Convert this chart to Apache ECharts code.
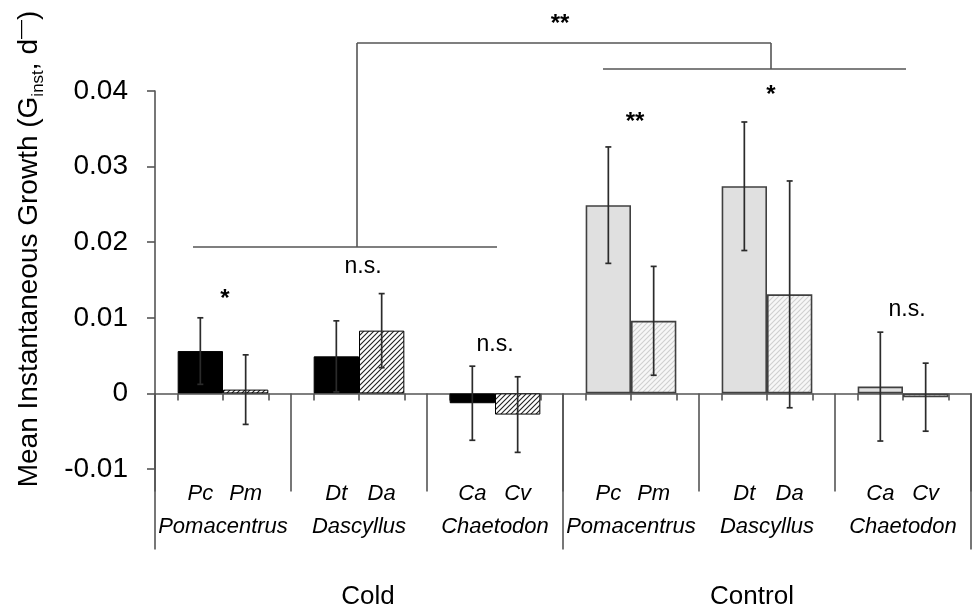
<!DOCTYPE html>
<html>
<head>
<meta charset="utf-8">
<script src="https://cdn.jsdelivr.net/npm/echarts@6/dist/echarts.min.js"></script>
<style>
  html, body { margin: 0; padding: 0; background: #fff; }
  #chart { width: 973px; height: 607px; }
</style>
</head>
<body>
<div id="chart"></div>
<script>
const genera = ['Pomacentrus', 'Dascyllus', 'Chaetodon', 'Pomacentrus', 'Dascyllus', 'Chaetodon'];
const speciesLabels = ['', 'Pc', 'Pm', '', 'Dt', 'Da', '', 'Ca', 'Cv', '', 'Pc', 'Pm', '', 'Dt', 'Da', '', 'Ca', 'Cv', ''];
const treatments = ['Cold', 'Control'];
const firstSpecies = [0.0056, 0.0049, -0.0013, 0.0249, 0.0274, 0.0009];
const firstErr = [0.0044, 0.0047, 0.0049, 0.0077, 0.0085, 0.0072];
const secondSpecies = [0.0005, 0.0083, -0.0028, 0.0096, 0.0131, -0.0005];
const secondErr = [0.0046, 0.0049, 0.0050, 0.0072, 0.0150, 0.0045];
const yMin = -0.01, yMax = 0.04, yStep = 0.01;

const FONT = '"Liberation Sans", Arial, sans-serif';
const AXIS = '#555555';
const H = 607, TOP = 91, BOTTOM = 138;
// lift the category axes from the grid bottom up to y = 0
const zeroLift = -(H - TOP - BOTTOM) * (0 - yMin) / (yMax - yMin);

// diagonal hatch fill
function hatch(bg, fg, lw) {
  const size = 5;
  const c = document.createElement('canvas');
  c.width = c.height = size;
  const ctx = c.getContext('2d');
  ctx.fillStyle = bg;
  ctx.fillRect(0, 0, size, size);
  ctx.strokeStyle = fg;
  ctx.lineWidth = lw;
  ctx.beginPath();
  ctx.moveTo(-1, size + 1); ctx.lineTo(size + 1, -1);
  ctx.moveTo(-1, 1); ctx.lineTo(1, -1);
  ctx.moveTo(size - 1, size + 1); ctx.lineTo(size + 1, size - 1);
  ctx.stroke();
  return { image: c, repeat: 'repeat' };
}
const hatchDark = hatch('#ffffff', '#222222', 1.1);
const hatchLight = hatch('#f7f7f7', '#cfcfcf', 1.1);

const firstData = firstSpecies.map((v, i) => ({
  value: v,
  itemStyle: i < 3
    ? { color: '#000', borderColor: '#000', borderWidth: 1 }
    : { color: '#e0e0e0', borderColor: '#404040', borderWidth: 1.6 }
}));
const secondData = secondSpecies.map((v, i) => ({
  value: v,
  itemStyle: i < 3
    ? { color: hatchDark, borderColor: '#000', borderWidth: 1 }
    : { color: hatchLight, borderColor: '#404040', borderWidth: 1.6 }
}));

const errData = [];
firstSpecies.forEach((v, i) => errData.push([i, v - firstErr[i], v + firstErr[i], 0]));
secondSpecies.forEach((v, i) => errData.push([i, v - secondErr[i], v + secondErr[i], 1]));

function renderErr(params, api) {
  const cat = api.value(0);
  const band = api.size([1, 0])[0];
  const bw = band / 3;
  const cx = api.coord([cat, 0])[0] + (api.value(3) === 0 ? -bw / 2 : bw / 2);
  const yLo = api.coord([cat, api.value(1)])[1];
  const yHi = api.coord([cat, api.value(2)])[1];
  const st = { stroke: '#2b2b2b', lineWidth: 1.7 };
  return {
    type: 'group',
    children: [
      { type: 'line', shape: { x1: cx, y1: yLo, x2: cx, y2: yHi }, style: st },
      { type: 'line', shape: { x1: cx - 3, y1: yLo, x2: cx + 3, y2: yLo }, style: st },
      { type: 'line', shape: { x1: cx - 3, y1: yHi, x2: cx + 3, y2: yHi }, style: st }
    ]
  };
}

function line(x1, y1, x2, y2) {
  return { type: 'line', shape: { x1, y1, x2, y2 }, style: { stroke: AXIS, lineWidth: 1.6 }, z: 10 };
}
function label(text, x, y, size, bold) {
  return {
    type: 'text', x, y, z: 10,
    style: { text, font: (bold ? 'bold ' : '') + size + 'px ' + FONT, fill: '#000', align: 'center', verticalAlign: 'middle' }
  };
}

const chart = echarts.init(document.getElementById('chart'));
chart.setOption({
  animation: false,
  backgroundColor: '#fff',
  grid: { left: 155, right: 2, top: TOP, bottom: BOTTOM, containLabel: false, outerBoundsMode: 'none' },
  xAxis: [
    {
      type: 'category', data: genera, position: 'bottom', offset: zeroLift,
      axisLine: { onZero: false, lineStyle: { color: AXIS, width: 1.6 } },
      axisTick: { show: true, interval: 0, length: 98, lineStyle: { color: AXIS, width: 1.6 } },
      axisLabel: { interval: 0, margin: 122, fontFamily: FONT, fontSize: 22, fontStyle: 'italic', color: '#000' }
    },
    {
      type: 'category', data: treatments, position: 'bottom', offset: zeroLift,
      axisLine: { show: false, onZero: false },
      axisTick: { show: true, interval: 0, length: 156, lineStyle: { color: AXIS, width: 1.6 } },
      axisLabel: {
        interval: 0, margin: 190, color: '#000',
        formatter: v => (v === 'Cold' ? '{c|' + v + '}' : '{k|' + v + '}'),
        rich: {
          c: { fontFamily: FONT, fontSize: 26, padding: [0, 0, 0, 18] },
          k: { fontFamily: FONT, fontSize: 26, padding: [0, 30, 0, 0] }
        }
      }
    },
    {
      type: 'category', data: speciesLabels.slice(1).map(() => ''), position: 'bottom', offset: zeroLift,
      axisLine: { show: false, onZero: false },
      axisTick: { show: true, interval: 0, alignWithLabel: true, length: 7, lineStyle: { color: AXIS, width: 1.6 } },
      axisLabel: { show: false }
    },
    {
      type: 'category', data: speciesLabels, boundaryGap: false, position: 'bottom', offset: zeroLift,
      axisLine: { show: false, onZero: false },
      axisTick: { show: false },
      axisLabel: { interval: 0, margin: 89, fontFamily: FONT, fontSize: 22, fontStyle: 'italic', color: '#000' }
    }
  ],
  yAxis: {
    type: 'value', min: yMin, max: yMax, interval: yStep,
    axisLine: { show: true, lineStyle: { color: AXIS, width: 1.6 } },
    axisTick: { show: true, length: 8, lineStyle: { color: AXIS, width: 1.6 } },
    splitLine: { show: false },
    axisLabel: {
      margin: 27, fontFamily: FONT, fontSize: 28, color: '#000',
      formatter: v => (Math.abs(v) < 1e-9 ? '0' : v.toFixed(2))
    },
    name: '{n|Mean Instantaneous Growth (G}{sub|inst}{n|, d}{sup|—}{n|)}',
    nameLocation: 'middle', nameRotate: 90, nameGap: 108,
    nameTextStyle: {
      padding: [0, 0, 0, 62],
      rich: {
        n: { fontFamily: FONT, fontSize: 28, color: '#000', lineHeight: 36 },
        sub: { fontFamily: FONT, fontSize: 17, color: '#000', lineHeight: 36, verticalAlign: 'bottom' },
        sup: { fontFamily: FONT, fontSize: 19, color: '#000', lineHeight: 36, verticalAlign: 'top' }
      }
    }
  },
  series: [
    { name: 'Species 1', type: 'bar', xAxisIndex: 0, data: firstData, barGap: '0%', barCategoryGap: '33.33%' },
    { name: 'Species 2', type: 'bar', xAxisIndex: 0, data: secondData, barGap: '0%', barCategoryGap: '33.33%' },
    { name: 'SE', type: 'custom', xAxisIndex: 0, renderItem: renderErr, data: errData, z: 5,
      encode: { x: 0, y: [1, 2] } }
  ],
  graphic: [
    line(193, 247, 497, 247),
    line(357, 247, 357, 43),
    line(357, 43, 771, 43),
    line(771, 43, 771, 69),
    line(603, 69, 906, 69),
    label('**', 560, 24, 24, true),
    label('*', 225, 299, 24, true),
    label('n.s.', 363, 267, 23, false),
    label('n.s.', 495, 345, 23, false),
    label('**', 635, 122, 24, true),
    label('*', 771, 95, 24, true),
    label('n.s.', 907, 310, 23, false)
  ]
});
</script>
</body>
</html>
